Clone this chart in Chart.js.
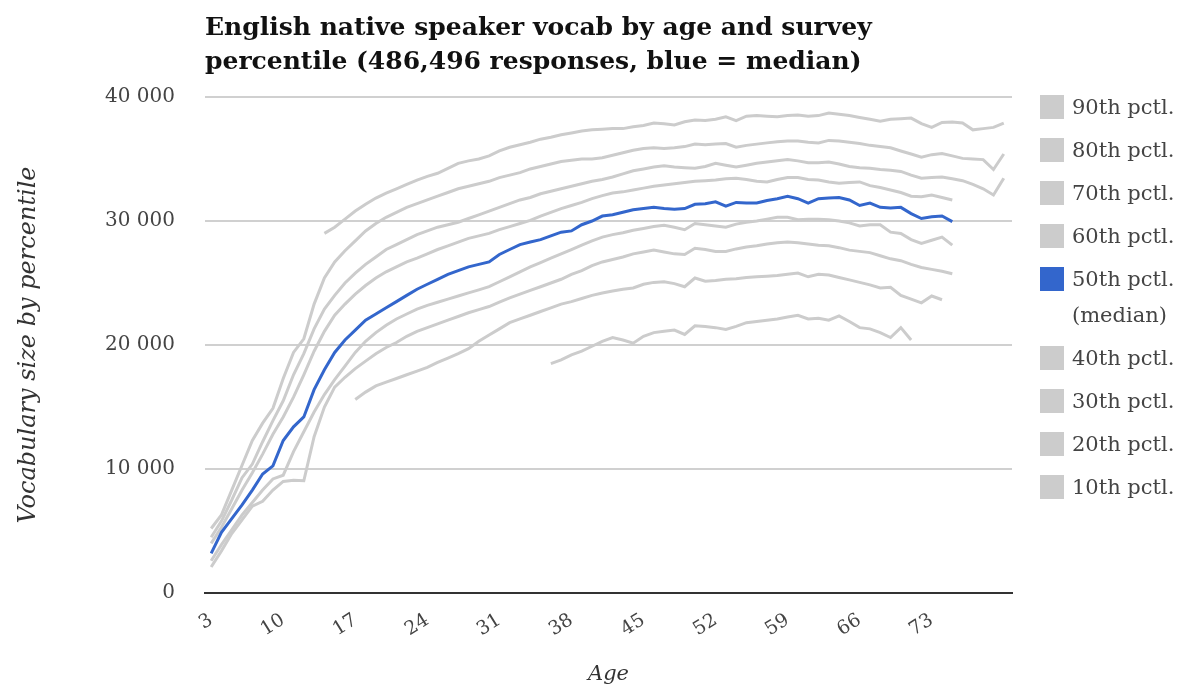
<!DOCTYPE html>
<html lang="en">
<head>
  <meta charset="UTF-8">
  <title>English native speaker vocab by age and survey percentile</title>
  <script src="https://cdn.jsdelivr.net/npm/chart.js"></script>
  <style>
    body { margin: 0; background: #fff; font-family: 'DejaVu Serif', serif; }
    #wrap { position: relative; width: 1190px; height: 689px; overflow: hidden; }
    #chart { position: absolute; left: 0; top: 0; }
    h1 { position: absolute; left: 205px; top: 10px; margin: 0; font-size: 25px; line-height: 34px; font-weight: bold; color: #111; white-space: nowrap; }
    #legend { position: absolute; left: 1040px; top: 86px; margin: 0; padding: 0; list-style: none; color: #444; font-size: 21px; }
    #legend li { display: flex; align-items: flex-start; height: 43px; }
    #legend li.two { height: 79px; }
    #legend span.box { width: 24px; height: 24px; margin-top: 9px; margin-right: 8px; flex: none; }
    #legend span.txt { line-height: 36px; margin-top: 3px; white-space: nowrap; }
  </style>
</head>
<body>
  <div id="wrap">
    <canvas id="chart" width="1190" height="689"></canvas>
    <h1>English native speaker vocab by age and survey<br>percentile (486,496 responses, blue = median)</h1>
    <ul id="legend"></ul>
  </div>

  <script>
    // tick labels on the age axis
    const tickAges = [3, 10, 17, 24, 31, 38, 45, 52, 59, 66, 73];
    const yTicks = [0, 10000, 20000, 30000, 40000];

    // percentile series: first age, then one value per year of age
    const seriesNames = ['90th pctl.', '80th pctl.', '70th pctl.', '60th pctl.', '50th pctl.\n(median)', '40th pctl.', '30th pctl.', '20th pctl.', '10th pctl.'];
    const seriesStart = [14, 3, 3, 3, 3, 3, 3, 17, 36];

    const p90 = [29000, 29500, 30150, 30800, 31350, 31850, 32250, 32600, 32950, 33300, 33600, 33850, 34250, 34650, 34850, 35000,
      35250, 35650, 35950, 36150, 36350, 36600, 36750, 36950, 37100, 37250, 37350, 37400, 37450, 37450, 37600, 37700, 37900,
      37850, 37750, 38000, 38150, 38100, 38200, 38400, 38100, 38450, 38500, 38450, 38400, 38500, 38550, 38450, 38500, 38700,
      38600, 38500, 38350, 38200, 38050, 38200, 38250, 38300, 37850, 37550, 37950, 37980, 37900, 37350, 37450, 37550, 37900];

    const p80 = [5200, 6300, 8300, 10300, 12300, 13700, 14900, 17300, 19400, 20500, 23300, 25400, 26700, 27600, 28400, 29200,
      29800, 30300, 30700, 31100, 31400, 31700, 32000, 32300, 32600, 32800, 33000, 33200, 33500, 33700, 33900, 34200, 34400,
      34600, 34800, 34900, 35000, 35000, 35100, 35300, 35500, 35700, 35850, 35900, 35850, 35900, 36000, 36200, 36150, 36200,
      36250, 35950, 36100, 36200, 36300, 36400, 36450, 36450, 36350, 36300, 36500, 36450, 36350, 36250, 36100, 36000, 35900,
      35650, 35400, 35150, 35350, 35450, 35250, 35050, 35000, 34950, 34150, 35400];

    const p70 = [4500, 5800, 7500, 9300, 10400, 12200, 13900, 15500, 17600, 19300, 21300, 22900, 24000, 25000, 25800, 26500,
      27100, 27700, 28100, 28500, 28900, 29200, 29500, 29700, 29900, 30200, 30500, 30800, 31100, 31400, 31700, 31900, 32200,
      32400, 32600, 32800, 33000, 33200, 33350, 33550, 33800, 34050, 34200, 34350, 34450, 34350, 34300, 34250, 34400, 34650,
      34500, 34350, 34500, 34650, 34750, 34850, 34950, 34850, 34700, 34700, 34750, 34600, 34400, 34300, 34250, 34150, 34100,
      34000, 33700, 33450, 33500, 33550, 33400, 33250, 32950, 32600, 32100, 33450];

    const p60 = [4000, 5300, 6800, 8300, 9700, 11200, 12800, 14200, 15800, 17600, 19500, 21100, 22400, 23300, 24100, 24800,
      25400, 25900, 26300, 26700, 27000, 27350, 27700, 28000, 28300, 28600, 28800, 29000, 29300, 29550, 29800, 30050, 30400,
      30700, 31000, 31250, 31500, 31800, 32050, 32250, 32350, 32500, 32650, 32800, 32900, 33000, 33100, 33200, 33250, 33300,
      33400, 33450, 33350, 33200, 33150, 33350, 33500, 33500, 33350, 33300, 33150, 33050, 33100, 33150, 32850, 32700, 32500,
      32300, 32000, 31950, 32100, 31900, 31700];

    const p50 = [3200, 4900, 6000, 7100, 8300, 9600, 10250, 12300, 13400, 14200, 16400, 18000, 19400, 20400, 21200, 22000,
      22500, 23000, 23500, 24000, 24500, 24900, 25300, 25700, 26000, 26300, 26500, 26700, 27300, 27700, 28100, 28300, 28500,
      28800, 29100, 29200, 29700, 30000, 30400, 30500, 30700, 30900, 31000, 31100, 31000, 30950, 31000, 31350, 31400, 31550,
      31200, 31500, 31450, 31450, 31650, 31800, 32000, 31800, 31450, 31800, 31850, 31900, 31700, 31250, 31450, 31100, 31050,
      31100, 30600, 30200, 30350, 30400, 29950];

    const p40 = [2600, 3900, 5100, 6300, 7300, 8300, 9200, 9500, 11400, 13000, 14600, 16000, 17200, 18300, 19400, 20300,
      21000, 21600, 22100, 22500, 22900, 23200, 23450, 23700, 23950, 24200, 24450, 24700, 25100, 25500, 25900, 26300, 26650,
      27000, 27350, 27700, 28050, 28400, 28700, 28900, 29050, 29250, 29400, 29550, 29650, 29500, 29300, 29800, 29700, 29600,
      29500, 29750, 29900, 30000, 30150, 30300, 30300, 30100, 30150, 30150, 30100, 30000, 29850, 29600, 29700, 29700, 29100,
      29000, 28500, 28200, 28450, 28700, 28050];

    const p30 = [2100, 3400, 4800, 5900, 7000, 7400, 8300, 9000, 9100, 9050, 12600, 15000, 16600, 17400, 18100, 18700,
      19300, 19800, 20200, 20700, 21100, 21400, 21700, 22000, 22300, 22600, 22850, 23100, 23450, 23800, 24100, 24400, 24700,
      25000, 25300, 25700, 26000, 26400, 26700, 26900, 27100, 27350, 27500, 27650, 27500, 27350, 27300, 27800, 27700, 27550,
      27550, 27750, 27900, 28000, 28150, 28250, 28300, 28250, 28150, 28050, 28000, 27850, 27650, 27550, 27450, 27200, 26950,
      26800, 26500, 26250, 26100, 25950, 25750];

    const p20 = [15600, 16200, 16700, 17000, 17300, 17600, 17900, 18200, 18600, 18950, 19300, 19700, 20300, 20800, 21300,
      21800, 22100, 22400, 22700, 23000, 23300, 23500, 23750, 24000, 24200, 24350, 24500, 24600, 24900, 25050, 25100, 24950,
      24700, 25400, 25150, 25200, 25300, 25350, 25450, 25500, 25550, 25600, 25700, 25800, 25500, 25700, 25650, 25450, 25250,
      25050, 24850, 24600, 24650, 24000, 23700, 23400, 23950, 23650];

    const p10 = [18500, 18800, 19200, 19500, 19900, 20300, 20600, 20400, 20150, 20700, 21000, 21100, 21200, 20850, 21550,
      21500, 21400, 21250, 21500, 21800, 21900, 22000, 22100, 22250, 22400, 22100, 22150, 22000, 22350, 21900, 21400, 21300,
      21000, 20600, 21400, 20400];

    const seriesValues = [p90, p80, p70, p60, p50, p40, p30, p20, p10];
    const grey = '#cccccc';
    const blue = '#3366cc';
    const font = "'DejaVu Serif', serif";

    const datasets = seriesValues.map((vals, i) => ({
      label: seriesNames[i],
      data: vals.map((v, k) => ({ x: seriesStart[i] + k, y: v })),
      borderColor: i === 4 ? blue : grey,
      borderWidth: 3,
      pointRadius: 0,
      tension: 0,
      fill: false,
      order: i === 4 ? 0 : 1
    }));

    // legend as real text next to the plot
    const legend = document.getElementById('legend');
    datasets.forEach(ds => {
      const li = document.createElement('li');
      const lines = ds.label.split('\n');
      if (lines.length > 1) li.className = 'two';
      const box = document.createElement('span');
      box.className = 'box';
      box.style.background = ds.borderColor;
      const txt = document.createElement('span');
      txt.className = 'txt';
      txt.innerHTML = lines.join('<br>');
      li.appendChild(box);
      li.appendChild(txt);
      legend.appendChild(li);
    });

    new Chart(document.getElementById('chart'), {
      type: 'line',
      data: { datasets: datasets },
      options: {
        responsive: false,
        animation: false,
        devicePixelRatio: 1,
        layout: { padding: { left: 0, top: 97, right: 178, bottom: 0 } },
        plugins: { legend: { display: false }, tooltip: { enabled: false } },
        scales: {
          x: {
            type: 'linear',
            min: 2.4,
            max: 80.8,
            afterBuildTicks: scale => { scale.ticks = tickAges.map(v => ({ value: v })); },
            afterFit: scale => { scale.height = 96; },
            grid: { display: false, drawTicks: false },
            border: { display: true, color: '#333', width: 2 },
            ticks: {
              padding: 16,
              minRotation: 32,
              maxRotation: 32,
              color: '#444',
              font: { family: font, size: 19 }
            },
            title: {
              display: true,
              text: 'Age',
              color: '#333',
              padding: { top: 0, bottom: 2 },
              font: { family: font, size: 21, style: 'italic' }
            }
          },
          y: {
            min: 0,
            max: 40000,
            afterBuildTicks: scale => { scale.ticks = yTicks.map(v => ({ value: v })); },
            afterFit: scale => { scale.width = 205; },
            grid: { color: '#d0d0d0', lineWidth: 2, drawTicks: false },
            border: { display: false },
            ticks: {
              padding: 30,
              color: '#444',
              font: { family: font, size: 20 },
              callback: v => v === 0 ? '0' : String(v).replace(/(\d+)(\d{3})$/, '$1 $2')
            },
            title: {
              display: true,
              text: 'Vocabulary size by percentile',
              color: '#333',
              padding: { top: 14, bottom: 0 },
              font: { family: font, size: 24, style: 'italic' }
            }
          }
        }
      }
    });
  </script>
</body>
</html>
